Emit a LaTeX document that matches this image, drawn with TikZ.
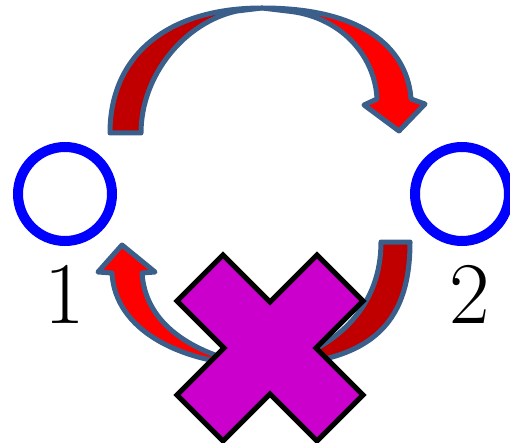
\documentclass[tikz,border=0pt]{standalone}
\usepackage{xcolor}
\usepackage{tikz}
\usetikzlibrary{positioning}

\definecolor{arrowline}{HTML}{3A5F8B}
\definecolor{darkband}{HTML}{C00000}
\definecolor{brightband}{HTML}{FF0000}
\definecolor{crossfill}{HTML}{CC00CC}

\begin{document}
\begin{tikzpicture}[x=1pt, y=-1pt]
        % Setup the styles for the states and the shapes
        \tikzset{state style/.style={circle,
                                     draw=blue,
                                     line width=10pt,
                                     minimum size=94pt,
                                     inner sep=0pt},
                 number style/.style={inner sep=0pt,
                                      font=\fontsize{88}{90}\selectfont},
                 band style/.style={draw=arrowline,
                                    line width=5pt,
                                    line join=round},
                 cross style/.style={draw=black,
                                     fill=crossfill,
                                     line width=5pt,
                                     line join=miter}}

        \useasboundingbox (0,0) rectangle (510,443);
        \clip (0,0) rectangle (510,443);

        % Draw the states
        \node[state style] at (65, 194)  (one) {};
        \node[state style] at (462, 194) (two) {};
        \node[number style] at (65, 294)  (onelabel) {1};
        \node[number style] at (470, 294) (twolabel) {2};

        % Top curved arrow
        \draw[band style, fill=darkband]
            (110,133) .. controls (110,55) and (168,8) .. (262,8)
            -- (237,11) .. controls (185,22) and (141,75) .. (141,133) -- cycle;
        \draw[band style, fill=brightband]
            (262,8) .. controls (372,8) and (408,55) .. (411,99)
            -- (425,104) -- (399,131) -- (364,105) -- (377,99)
            .. controls (375,55) and (340,16) .. (287,11) -- cycle;

        % Bottom curved arrow
        \draw[band style, fill=darkband]
            (410,242) .. controls (410,325) and (370,364) .. (262,366)
            -- (280,364) .. controls (340,345) and (381,305) .. (381,242) -- cycle;
        \draw[band style, fill=brightband]
            (262,366) .. controls (180,364) and (115,330) .. (112,273)
            -- (98,272) -- (122,245) -- (155,272) -- (142,273)
            .. controls (145,320) and (185,350) .. (245,364) -- cycle;

        % The cross
        \draw[cross style, shift={(270,348)}]
            (-47,-93) -- (0,-46) -- (47,-93) -- (93,-47) -- (46,0) -- (93,47)
            -- (47,93) -- (0,46) -- (-47,93) -- (-93,47) -- (-46,0) -- (-93,-47) -- cycle;
\end{tikzpicture}
\end{document}
